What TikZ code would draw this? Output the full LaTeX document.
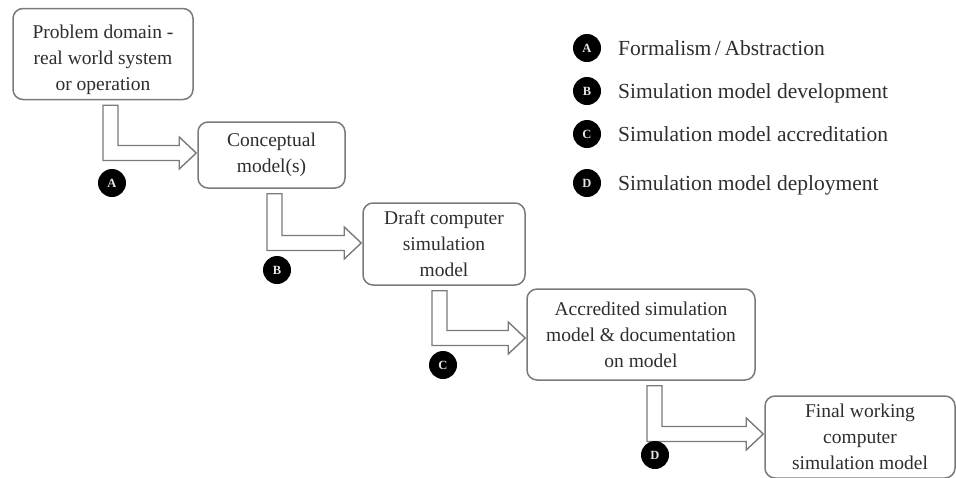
\documentclass[tikz,border=0pt]{standalone}
\usepackage{fontspec}
\setmainfont{Liberation Serif}
\usetikzlibrary{calc}

\definecolor{inkgray}{HTML}{2E2E2E}
\definecolor{edgegray}{HTML}{7A7A7A}

\tikzset{
  stagebox/.style={draw=edgegray, line width=1.5pt, rounded corners=10pt, fill=white,
    align=center, inner sep=0pt, text=inkgray,
    font=\fontsize{19.5}{26}\selectfont},
  arrowline/.style={draw=edgegray, line width=1.4pt, fill=white, line join=miter},
  badge/.style={circle, fill=black, minimum size=28pt, inner sep=0pt,
    text=white!80!gray, font=\bfseries\fontsize{12.5}{12.5}\selectfont},
  legendtext/.style={anchor=base west, inner sep=0pt, text=inkgray,
    font=\fontsize{21.5}{24}\selectfont},
}

% Hollow L-shaped step arrow from the bottom of one box to the left side of the next.
% #3: shift of the shaft's left edge from the source box's south anchor
% #4: downward shift of the tip from the target box's west anchor
\newcommand\steparrow[4]{%
  \path[arrowline] let \p1=(#1.south), \p2=(#2.west) in
    (\x1+#3, \y1-5) -- (\x1+#3+15, \y1-5)
    -- (\x1+#3+15, \y2+#4*-1+7.5) -- (\x2-18, \y2+#4*-1+7.5)
    -- (\x2-18, \y2+#4*-1+16) -- (\x2-1, \y2+#4*-1)
    -- (\x2-18, \y2+#4*-1-16) -- (\x2-18, \y2+#4*-1-7.5)
    -- (\x1+#3, \y2+#4*-1-7.5) -- cycle;
}

\begin{document}
\begin{tikzpicture}[x=1pt, y=-1pt]
  \useasboundingbox (0,0) rectangle (956,477);
  \clip (0,0) rectangle (956,477);

  % stages of the modelling process
  \node[stagebox, minimum width=180pt, minimum height=91pt] (problem) at (103,54)
    {\rule{0pt}{26pt}Problem domain -\\real world system\\or operation};
  \node[stagebox, minimum width=147pt, minimum height=66pt] (concept) at (271.5,155)
    {Conceptual\\model(s)};
  \node[stagebox, minimum width=162pt, minimum height=82pt] (draft) at (444,244)
    {Draft computer\\simulation\\model};
  \node[stagebox, minimum width=228pt, minimum height=91pt] (accred) at (641,334.5)
    {Accredited simulation\\model \& documentation\\on model};
  \node[stagebox, minimum width=190pt, minimum height=82pt] (final) at (860,437)
    {Final working\\computer\\simulation model};

  % transitions between stages
  \steparrow{problem}{concept}{0}{-2}
  \steparrow{concept}{draft}{-4.5}{-1}
  \steparrow{draft}{accred}{-12}{3.5}
  \steparrow{accred}{final}{6}{-3}

  % transition markers
  \node[badge] (ma) at (112,183) {A};
  \node[badge] (mb) at (277,270) {B};
  \node[badge] (mc) at (443,365) {C};
  \node[badge] (md) at (655,455) {D};

  % legend
  \node[badge] (la) at (587,48) {A};
  \node[badge] (lb) at (587,91) {B};
  \node[badge] (lc) at (587,134) {C};
  \node[badge] (ld) at (587,183) {D};
  \node[legendtext] (ta) at (618,55) {Formalism\,/\,Abstraction};
  \node[legendtext] (tb) at (618,98) {Simulation model development};
  \node[legendtext] (tc) at (618,141) {Simulation model accreditation};
  \node[legendtext] (td) at (618,190) {Simulation model deployment};
\end{tikzpicture}
\end{document}
